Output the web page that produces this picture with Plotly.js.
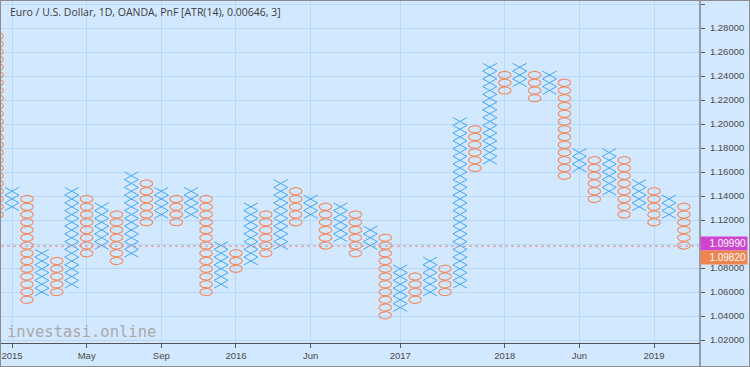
<!DOCTYPE html>
<html>
<head>
<meta charset="utf-8">
<script src="https://cdn.plot.ly/plotly-3.0.1.min.js"></script>
<style>
html,body{margin:0;padding:0;background:#d2e8fe;}
#chart{width:748px;height:365px;border:1px solid #8c8c8c;}
</style>
</head>
<body>
<div id="chart"></div>
<script>
// ---- data ----
const boxSize = 0.00646;      // PnF box size (from title)
const basePrice = 1.09875;    // price of box level 0
const colType = ['O','X','O','X','O','X','O','X','O','X','O','X','O','X','O','X','O','X','O','X','O','X','O','X','O','X','O','X','O','X','O','X','O','X','O','X','O','X','O','X','O','X','O','X','O','X','O'];
const colLow  = [ 4, 5,-7,-6,-6,-5,-1, 0,-2,-1, 3, 4, 3, 4,-6,-5,-3,-2,-1, 0, 3, 4, 0, 1,-1, 0,-9,-8,-7,-6,-6,-5,10,11,20,21,19,20, 9,10, 6, 7, 4, 5, 3, 4, 0];
const colHigh = [27, 7, 6,-1,-2, 7, 6, 5, 4, 9, 8, 7, 6, 7, 6, 0,-1, 5, 4, 8, 7, 6, 5, 5, 4, 2, 1,-3,-4,-2,-3,16,15,23,22,23,22,22,21,12,11,12,11, 8, 7, 6, 5];
const xTickVals = [2, 7, 12, 17, 22, 28, 35, 40, 45];
const xTickText = ['2015', 'May', 'Sep', '2016', 'Jun', '2017', '2018', 'Jun', '2019'];
const yTickVals = [1.02,1.04,1.06,1.08,1.10,1.12,1.14,1.16,1.18,1.20,1.22,1.24,1.26,1.28,1.30];
const lastBoxPrice = 1.0999;
const lastPrice = 1.0982;
const titleText = 'Euro / U.S. Dollar, 1D, OANDA, PnF [ATR(14), 0.00646, 3]';

// ---- build marks ----
const xs = [], ys = [], ox = [], oy = [];
const xw = 0.47, ow = 0.42, oh = 0.47;
for (let i = 0; i < colType.length; i++) {
  const c = i + 1;
  for (let k = colLow[i]; k <= colHigh[i]; k++) {
    const p = basePrice + k * boxSize;
    if (colType[i] === 'X') {
      xs.push(c - xw, c + xw, null, c - xw, c + xw, null);
      ys.push(p - boxSize/2, p + boxSize/2, null, p + boxSize/2, p - boxSize/2, null);
    } else {
      for (let t = 0; t <= 24; t++) {
        const a = 2 * Math.PI * t / 24;
        ox.push(c + ow * Math.cos(a));
        oy.push(p + oh * boxSize * Math.sin(a));
      }
      ox.push(null); oy.push(null);
    }
  }
}

const traces = [
  {type:'scatter', mode:'lines', x: xs, y: ys, line:{color:'#45a7f2', width:1}, hoverinfo:'skip', connectgaps:false},
  {type:'scatter', mode:'lines', x: ox, y: oy, line:{color:'#f08a60', width:1.1}, hoverinfo:'skip', connectgaps:false}
];

const layout = {
  width: 748, height: 365,
  margin: {l:0, r:49, t:0, b:23, pad:0},
  paper_bgcolor: '#d2e8fe', plot_bgcolor: '#d2e8fe',
  showlegend: false,
  font: {family:'Liberation Sans, Arial, sans-serif', size:9.5, color:'#4a4a4a'},
  xaxis: {
    range: [1.263, 48.08], tickmode:'array', tickvals: xTickVals, ticktext: xTickText,
    showgrid: true, gridcolor:'#b9d8f7', gridwidth:1, zeroline:false,
    showline: true, linecolor:'#555', linewidth:1,
    ticks:'outside', ticklen:4, tickcolor:'#555', fixedrange:true
  },
  yaxis: {
    side:'right', range: [1.0175, 1.3025], tickmode:'array', tickvals: yTickVals,
    tickformat: '.5f', showgrid:true, gridcolor:'#b9d8f7', gridwidth:1, zeroline:false,
    showline:false, ticks:'outside', ticklen:4, tickcolor:'#555', ticklabelstandoff:3, fixedrange:true
  },
  shapes: [
    {type:'line', xref:'paper', yref:'paper', x0:1, x1:1, y0:-23/342, y1:1, line:{color:'#555', width:1}},
    {type:'line', xref:'paper', yref:'y', x0:0, x1:1, y0:lastPrice, y1:lastPrice, line:{color:'#e58a7a', width:1, dash:'dot'}}
  ],
  annotations: [
    {xref:'paper', yref:'paper', x:0.010, y:0.968, xanchor:'left', yanchor:'middle', showarrow:false,
     text: titleText, font:{family:'Open Sans, sans-serif', size:10.5, color:'#3c3c3c'}},
    {xref:'paper', yref:'paper', x:0.0057, y:0.032, xanchor:'left', yanchor:'middle', showarrow:false,
     text:'investasi.online', font:{family:'DejaVu Sans Mono, monospace', size:15.5, color:'#a9a9a9'}},
    {xref:'paper', yref:'y', x:1, y:lastBoxPrice, yshift:1, xanchor:'left', yanchor:'middle', showarrow:false,
     text:'1.09990', bgcolor:'#cf45cf', width:44, height:11, borderpad:1, align:'right',
     font:{family:'Liberation Sans, Arial, sans-serif', size:10, color:'#ffffff'}},
    {xref:'paper', yref:'y', x:1, y:lastPrice, yshift:-11, xanchor:'left', yanchor:'middle', showarrow:false,
     text:'1.09820', bgcolor:'#f0844f', width:44, height:11, borderpad:1, align:'right',
     font:{family:'Liberation Sans, Arial, sans-serif', size:10, color:'#ffffff'}}
  ]
};

Plotly.newPlot('chart', traces, layout, {displayModeBar:false, staticPlot:true});
</script>
</body>
</html>
